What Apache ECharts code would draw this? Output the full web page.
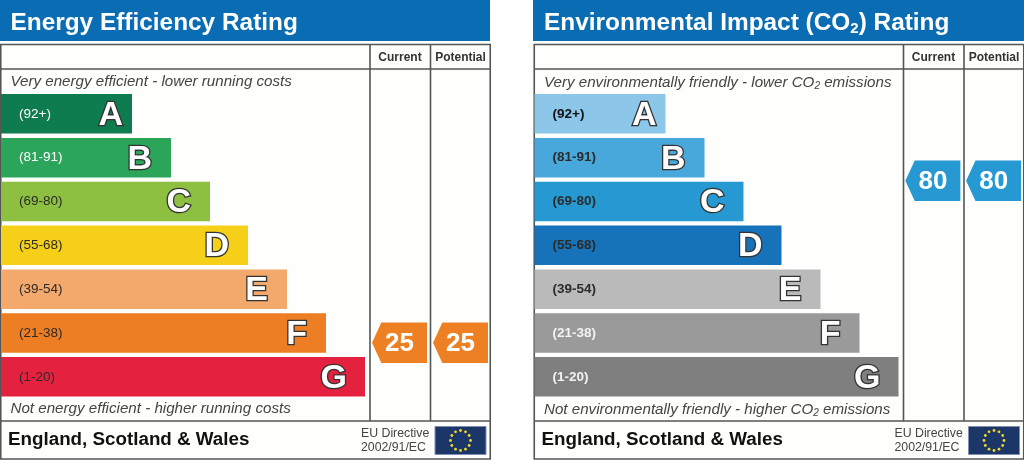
<!DOCTYPE html>
<html>
<head>
<meta charset="utf-8">
<style>html,body{margin:0;padding:0;background:#fff}#c{width:1024px;height:460px}</style>
<script src="https://cdn.jsdelivr.net/npm/echarts@6/dist/echarts.min.js"></script>
</head>
<body>
<div id="c"></div>
<script>
var bandRanges = ['(92+)','(81-91)','(69-80)','(55-68)','(39-54)','(21-38)','(1-20)'];
var bandLetters = ['A','B','C','D','E','F','G'];
var barLengths = [131,170,209,247,286,325,364];
var columns = ['Current','Potential'];
var energyColors = ['#0f7c4f','#2ba55a','#8dbf41','#f6d018','#f3a96b','#ee7e23','#e4213e'];
var energyLabelColors = ['#ffffff','#ffffff','#2b2b2b','#2b2b2b','#2b2b2b','#2b2b2b','#2b2b2b'];
var co2Colors = ['#8cc6e8','#48a8dc','#2699d3','#1773b9','#bababa','#9a9a9a','#7f7f7f'];
var co2LabelColors = ['#111111','#2b2b2b','#2b2b2b','#2b2b2b','#2b2b2b','#f2f2f2','#f2f2f2'];
var energyRatings = [25,25];
var co2Ratings = [80,80];
var energyPointerColor = '#ee8024';
var co2PointerColor = '#2699d3';
var titles = ['Energy Efficiency Rating','{a|Environmental Impact (CO}{s|2}{a|) Rating}'];
var topNotes = ['Very energy efficient - lower running costs','{a|Very environmentally friendly - lower CO}{s|2}{a| emissions}'];
var bottomNotes = ['Not energy efficient - higher running costs','{a|Not environmentally friendly - higher CO}{s|2}{a| emissions}'];
var footerName = 'England, Scotland & Wales';
var directive = 'EU Directive\n2002/91/EC';

var F = '"Liberation Sans", Arial, sans-serif';
var FRAME = '#555555';
var option = {
  animation:false, backgroundColor:'#ffffff',
  title:[], grid:[], xAxis:[], yAxis:[], series:[], graphic:[]
};
var pointerPath = 'path://M0,50 L17,0 L100,0 L100,100 L17,100 Z';

function panel(ox, idx, colors, labelColors, ratings, pColor){
  var g = option.graphic, gi = option.grid.length;
  g.push({type:'rect',z:0,shape:{x:ox-(idx?0.5:0),y:0,width:idx?491:490,height:41},style:{fill:'#0a6cb3'}});
  g.push({type:'rect',z:0,shape:{x:ox+0.75,y:44.5,width:489.5,height:414.5},style:{fill:'#fefefc',stroke:FRAME,lineWidth:1.6}});
  [[ox+1,69,ox+490,69],[ox+1,421,ox+490,421],[ox+370,44,ox+370,421],[ox+430.5,44,ox+430.5,421]].forEach(function(l){
    g.push({type:'line',z:1,shape:{x1:l[0],y1:l[1],x2:l[2],y2:l[3]},style:{stroke:FRAME,lineWidth:1.6}});
  });
  columns.forEach(function(c,i){
    g.push({type:'text',z:3,style:{x:ox+(i?460.5:400),y:57.5,text:c,fill:'#333',font:'bold 12px '+F,textAlign:'center',textVerticalAlign:'middle'}});
  });
  var noteRich = {a:{fontFamily:F,fontStyle:'italic',fontWeight:'normal',fontSize:15.15,color:'#444'},
                  s:{fontFamily:F,fontStyle:'italic',fontWeight:'normal',fontSize:10,color:'#444',padding:[7,0,0,0]}};
  option.title.push({left:ox+10.5,top:11,padding:0,text:titles[idx],
    textStyle:{fontFamily:F,fontWeight:'bold',fontSize:24.4,color:'#fff',
      rich:{a:{fontFamily:F,fontWeight:'bold',fontSize:24.4,color:'#fff'},
            s:{fontFamily:F,fontWeight:'bold',fontSize:15,color:'#fff',padding:[10,0,0,0]}}}});
  option.title.push({left:ox+10.5,top:74.5,padding:0,text:idx?topNotes[idx]:'{a|'+topNotes[idx]+'}',textStyle:{rich:noteRich}});
  option.title.push({left:ox+10.5,top:401.5,padding:0,text:idx?bottomNotes[idx]:'{a|'+bottomNotes[idx]+'}',textStyle:{rich:noteRich}});
  g.push({type:'text',z:3,style:{x:ox+8,y:440,text:footerName,fill:'#111',font:'bold 18.8px '+F,textVerticalAlign:'middle'}});
  g.push({type:'text',z:3,style:{x:ox+361,y:441,text:directive,fill:'#444',font:'12.3px '+F,textVerticalAlign:'middle',lineHeight:14}});
  g.push({type:'rect',z:3,shape:{x:ox+435,y:426.5,width:51,height:28},style:{fill:'#1d3668',stroke:'#7f8db0',lineWidth:1}});
  for(var k=0;k<12;k++){
    var a=k/12*Math.PI*2;
    g.push({type:'circle',z:4,shape:{cx:ox+460.5+10*Math.sin(a),cy:440.5-10*Math.cos(a),r:1.4},style:{fill:'#f2d72a'}});
  }
  option.grid.push({left:ox+1,top:91.9,width:489,height:306.8,containLabel:false});
  option.xAxis.push({type:'value',gridIndex:gi,min:0,max:489,show:false});
  option.yAxis.push({type:'category',gridIndex:gi,inverse:true,data:bandRanges,z:6,
    axisLine:{show:false},axisTick:{show:false},splitLine:{show:false},
    axisLabel:{inside:true,margin:18,fontFamily:F,fontSize:13.5,fontWeight:idx?'bold':'normal',
      color:function(v,i){return labelColors[i];}}});
  option.series.push({type:'bar',xAxisIndex:gi,yAxisIndex:gi,barWidth:39.5,z:3,
    data:barLengths.map(function(v,i){
      return {value:v,itemStyle:{color:colors[i]},
        label:{distance:i===0?9:(i===6?18:19),formatter:bandLetters[i]}};
    }),
    label:{show:true,position:'insideRight',offset:[0,1.5],fontFamily:F,fontWeight:'bold',fontSize:34,color:'#fff',
      textBorderColor:'#333333',textBorderWidth:2.6}});
  var gp = option.grid.length;
  option.grid.push({left:ox+369,top:91.9,width:122,height:306.8});
  option.xAxis.push({type:'category',gridIndex:gp,data:columns,show:false});
  option.yAxis.push({type:'value',gridIndex:gp,min:6,max:110.2,show:false});
  option.series.push({type:'scatter',xAxisIndex:gp,yAxisIndex:gp,z:5,symbol:pointerPath,symbolSize:[55,40.5],
    symbolKeepAspect:false,itemStyle:{color:pColor,opacity:1},
    data:ratings,
    label:{show:true,position:'inside',offset:[0,1],fontFamily:F,fontWeight:'bold',fontSize:26,color:'#fff',
      formatter:function(p){return p.value[1]!==undefined?p.value[1]:p.value;}}});
}
panel(0,0,energyColors,energyLabelColors,energyRatings,energyPointerColor);
panel(533.5,1,co2Colors,co2LabelColors,co2Ratings,co2PointerColor);
echarts.init(document.getElementById('c')).setOption(option);
</script>
</body>
</html>
